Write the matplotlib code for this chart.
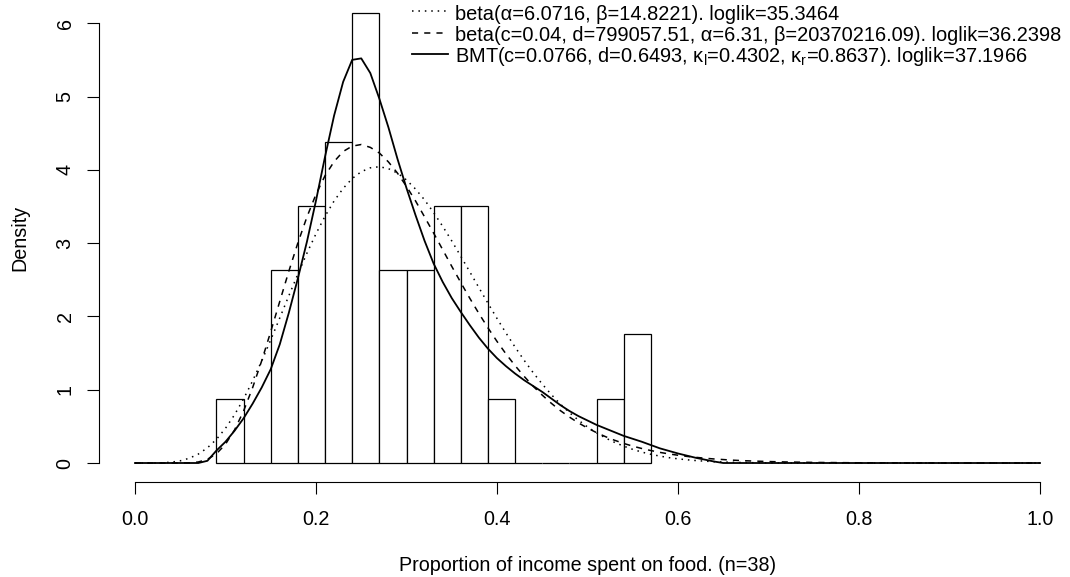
import numpy as np
import matplotlib
matplotlib.use('Agg')
import matplotlib.pyplot as plt

plt.rcParams['font.family'] = ['Liberation Sans', 'DejaVu Sans']
plt.rcParams['mathtext.fontset'] = 'custom'
plt.rcParams['mathtext.rm'] = 'Liberation Sans'
plt.rcParams['mathtext.it'] = 'Liberation Sans:italic'

# histogram of the 38 observations, bins of width 0.03
bin_edges = [0.09, 0.12, 0.15, 0.18, 0.21, 0.24, 0.27, 0.30, 0.33,
             0.36, 0.39, 0.42, 0.45, 0.48, 0.51, 0.54, 0.57]
bin_counts = [1, 0, 3, 4, 5, 7, 3, 3, 4, 4, 1, 0, 0, 0, 1, 2]

# fitted densities, x = 0.00, 0.01, ..., 1.00
x_grid = np.linspace(0, 1, 101)

beta_dens = [0, 0, 0, 0.003, 0.011, 0.030, 0.065, 0.122, 0.207, 0.323,
             0.474, 0.658, 0.875, 1.122, 1.392, 1.680, 1.980, 2.282, 2.578, 2.863,
             3.128, 3.367, 3.575, 3.746, 3.881, 3.974, 4.027, 4.042, 4.016, 3.955,
             3.861, 3.737, 3.589, 3.416, 3.229, 3.030, 2.820, 2.607, 2.392, 2.180,
             1.972, 1.772, 1.581, 1.401, 1.232, 1.077, 0.934, 0.804, 0.688, 0.584,
             0.492, 0.412, 0.341, 0.281, 0.230, 0.186, 0.149, 0.119, 0.094, 0.073,
             0.057, 0.044, 0.033, 0.025, 0.018, 0.013, 0.010, 0.007, 0.005, 0.003,
             0.002, 0.001, 0.001, 0, 0, 0, 0, 0, 0, 0,
             0, 0, 0, 0, 0, 0, 0, 0, 0, 0,
             0, 0, 0, 0, 0, 0, 0, 0, 0, 0,
             0]

beta4_dens = [0, 0, 0, 0, 0, 0, 0.002, 0.014, 0.050, 0.126,
              0.257, 0.451, 0.710, 1.029, 1.395, 1.793, 2.206, 2.617, 3.004, 3.357,
              3.666, 3.920, 4.112, 4.250, 4.323, 4.345, 4.306, 4.229, 4.108, 3.955,
              3.773, 3.575, 3.357, 3.136, 2.910, 2.683, 2.462, 2.246, 2.040, 1.844,
              1.659, 1.487, 1.328, 1.182, 1.047, 0.926, 0.815, 0.715, 0.627, 0.547,
              0.477, 0.414, 0.359, 0.310, 0.267, 0.230, 0.198, 0.170, 0.145, 0.124,
              0.106, 0.090, 0.077, 0.065, 0.055, 0.047, 0.039, 0.033, 0.028, 0.024,
              0.020, 0.017, 0.014, 0.012, 0.010, 0.008, 0.007, 0.006, 0.005, 0.004,
              0.003, 0.003, 0.002, 0.002, 0.002, 0.001, 0.001, 0.001, 0.001, 0,
              0, 0, 0, 0, 0, 0, 0, 0, 0, 0,
              0]

bmt_dens = [0, 0, 0, 0, 0, 0, 0, 0, 0.03, 0.17,
            0.29, 0.44, 0.61, 0.81, 1.03, 1.28, 1.62, 2.05, 2.52, 3.02,
            3.58, 4.18, 4.74, 5.20, 5.50, 5.52, 5.32, 4.97, 4.58, 4.15,
            3.75, 3.38, 3.03, 2.72, 2.47, 2.25, 2.06, 1.88, 1.71, 1.56,
            1.43, 1.32, 1.22, 1.13, 1.05, 0.97, 0.88, 0.79, 0.71, 0.64,
            0.58, 0.52, 0.47, 0.42, 0.37, 0.33, 0.29, 0.245, 0.20, 0.165,
            0.13, 0.10, 0.07, 0.045, 0.02, 0, 0, 0, 0, 0,
            0, 0, 0, 0, 0, 0, 0, 0, 0, 0,
            0, 0, 0, 0, 0, 0, 0, 0, 0, 0,
            0, 0, 0, 0, 0, 0, 0, 0, 0, 0,
            0]

labels = [
    'beta(α=6.0716, β=14.8221). loglik=35.3464',
    'beta(c=0.04, d=799057.51, α=6.31, β=20370216.09). loglik=36.2398',
    r'BMT(c=0.0766, d=0.6493, κ$_\mathrm{l}$=0.4302, κ$_\mathrm{r}$=0.8637). loglik=37.1966',
]

fs = 14.2
W, H = 1070, 577
fig = plt.figure(figsize=(W / 100, H / 100), dpi=100)
ax = fig.add_axes([98.8 / W, 1 - 481.7 / H, 1 - 98.8 / W, 481.7 / H])

bin_mids = [(a + b) / 2 for a, b in zip(bin_edges[:-1], bin_edges[1:])]
ax.hist(bin_mids, bins=bin_edges, weights=bin_counts, density=True,
        facecolor='white', edgecolor='black', linewidth=0.9)

ax.plot(x_grid, beta_dens, color='black', lw=1.1, dashes=(1, 3.2), label=labels[0])
ax.plot(x_grid, beta4_dens, color='black', lw=1.1, dashes=(4, 4), label=labels[1])
ax.plot(x_grid, bmt_dens, color='black', lw=1.3, label=labels[2])

ax.set_xlim(-0.04, (W - 135) / 905)
ax.set_ylim(-0.255, 463 / 73.3)

for s in ['top', 'right']:
    ax.spines[s].set_visible(False)
ax.spines['left'].set_bounds(0, 6)
ax.spines['bottom'].set_bounds(0, 1)
ax.spines['left'].set_linewidth(0.8)
ax.spines['bottom'].set_linewidth(0.8)

ax.set_xticks([0, 0.2, 0.4, 0.6, 0.8, 1.0])
ax.set_xticklabels(['0.0', '0.2', '0.4', '0.6', '0.8', '1.0'])
ax.set_yticks(range(7))
ax.tick_params(axis='both', length=8.4, width=0.8, labelsize=fs)
ax.tick_params(axis='x', pad=12.0)
ax.tick_params(axis='y', pad=9.0, labelrotation=90)
for t in ax.get_yticklabels():
    t.set_va('center')

fig.text(587.5 / W, 1 - 571 / H, 'Proportion of income spent on food. (n=38)',
         ha='center', va='baseline', fontsize=fs)
fig.text(20 / W, 1 - 238 / H, 'Density', rotation=90, ha='center', va='center',
         fontsize=fs)

ax.legend(loc='upper left', bbox_to_anchor=(412 / W, 1 - 3 / H),
          bbox_transform=fig.transFigure, frameon=False, fontsize=14.4,
          handlelength=1.8, handletextpad=0.35, labelspacing=0.0,
          handleheight=1.2, borderpad=0, borderaxespad=0)

fig.savefig('out.png', dpi=100)
